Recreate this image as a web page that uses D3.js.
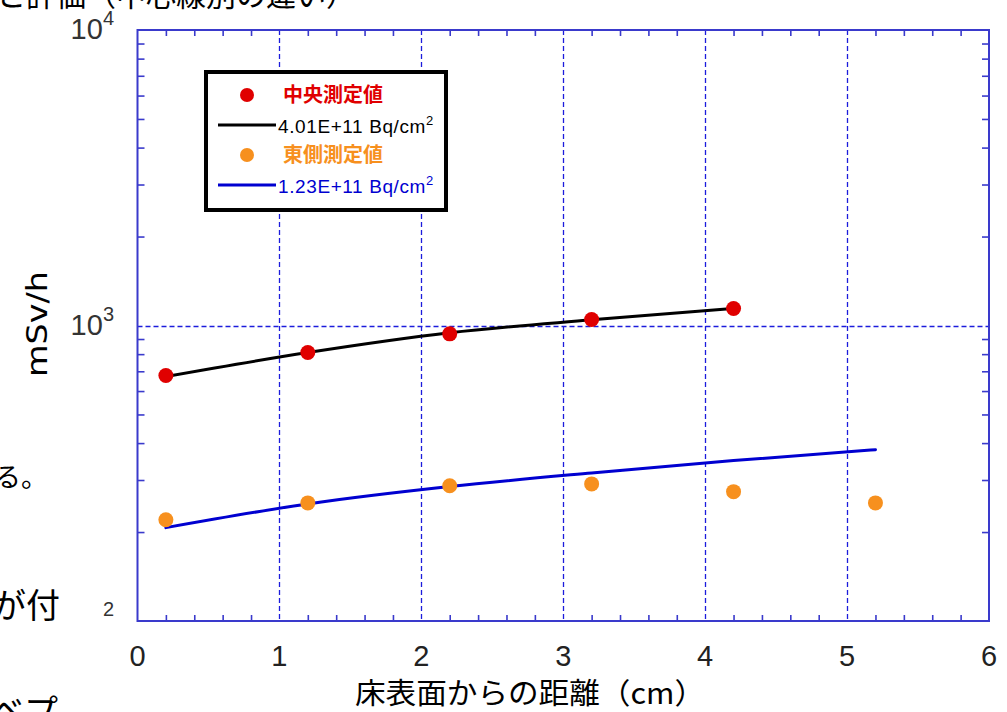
<!DOCTYPE html>
<html>
<head>
<meta charset="utf-8">
<script src="https://cdn.jsdelivr.net/npm/d3@7"></script>
<style>
  body { margin: 0; background: #fff; }
  svg { display: block; }
</style>
</head>
<body>
<div id="chart"></div>
<script>
// measured values (mSv/h) vs distance from floor (cm)
const centerX = [0.2, 1.2, 2.2, 3.2, 4.2]
const centerMeasured = [677, 810, 937, 1048, 1142]
const centerCalc = [672, 810, 945, 1045, 1142]

const eastX = [0.2, 1.2, 2.2, 3.2, 4.2, 5.2]
const eastMeasured = [220, 251, 287, 291, 274, 251]
const eastCalc = [207, 249, 285, 317, 349, 380]

const xTicks = [0, 1, 2, 3, 4, 5, 6]
const yTickLabels = [
  {v: 10000, base: "10", exp: "4"},
  {v: 1000, base: "10", exp: "3"},
  {v: 100, base: "", exp: "2"}
]
const legendItems = [
  {type: "dot", color: "#e00000", label: "中央測定値"},
  {type: "line", color: "#000000", label: "4.01E+11 Bq/cm", sup: "2"},
  {type: "dot", color: "#f7901e", label: "東側測定値"},
  {type: "line", color: "#0000d0", label: "1.23E+11 Bq/cm", sup: "2"}
]

var width = 1007, height = 712
var plot = {left: 137.5, right: 989, top: 30, bottom: 621}
var axisColor = "#3a3acc"

var svg = d3.select("#chart").append("svg")
  .attr("width", width)
  .attr("height", height)

var x = d3.scaleLinear().domain([0, 6]).range([plot.left, plot.right])
var y = d3.scaleLog().domain([100, 10000]).range([plot.bottom, plot.top])

// slide text bits around the picture
var slideFont = "'Noto Sans CJK JP', sans-serif"
svg.append("text").attr("x", -4).attr("y", 6)
  .style("font-family", slideFont).style("font-size", "30px")
  .text("と評価（中心線別の違い）")
svg.append("text").attr("x", -6).attr("y", 487)
  .style("font-family", slideFont).style("font-size", "27px")
  .text("る。")
svg.append("text").attr("x", -8).attr("y", 618)
  .style("font-family", slideFont).style("font-size", "34px")
  .text("が付")
svg.append("text").attr("x", -10).attr("y", 724)
  .style("font-family", slideFont).style("font-size", "34px")
  .text("ベプ")

// grid
var grid = svg.append("g")
  .attr("stroke", "#1c1cdc")
  .attr("stroke-width", 1.3)
  .attr("stroke-dasharray", "5,3")
grid.selectAll(".gx").data(xTicks.slice(1, -1)).join("line")
  .attr("x1", d => Math.round(x(d)) + 0.5).attr("x2", d => Math.round(x(d)) + 0.5)
  .attr("y1", plot.top).attr("y2", plot.bottom)
grid.append("line")
  .attr("x1", plot.left).attr("x2", plot.right)
  .attr("y1", Math.round(y(1000)) + 0.5).attr("y2", Math.round(y(1000)) + 0.5)

// ticks on all four sides, pointing inward
var minorX = d3.range(0, 30).map(i => i * 0.2).filter(d => Math.abs(d - Math.round(d)) > 0.01)
svg.append("g").attr("transform", "translate(0," + plot.bottom + ")")
  .call(d3.axisBottom(x).tickValues(minorX).tickSize(-6).tickFormat(""))
svg.append("g").attr("transform", "translate(0," + plot.top + ")")
  .call(d3.axisTop(x).tickValues(minorX).tickSize(-6).tickFormat(""))

var minorY = []
;[100, 1000].forEach(b => { for (let k = 2; k <= 9; k++) minorY.push(b * k) })
svg.append("g").attr("transform", "translate(" + plot.left + ",0)")
  .call(d3.axisLeft(y).tickValues(minorY).tickSize(-7).tickFormat(""))
svg.append("g").attr("transform", "translate(" + plot.right + ",0)")
  .call(d3.axisRight(y).tickValues(minorY).tickSize(-7).tickFormat(""))

svg.selectAll(".domain").remove()
svg.selectAll(".tick line").attr("stroke", axisColor).attr("stroke-width", 1.6)

// frame
svg.append("rect")
  .attr("x", plot.left).attr("y", plot.top)
  .attr("width", plot.right - plot.left).attr("height", plot.bottom - plot.top)
  .attr("fill", "none").attr("stroke", axisColor).attr("stroke-width", 2)

// x tick labels
var numFont = "'Liberation Sans Narrow', 'Liberation Sans', Arial, sans-serif"
svg.selectAll(".xl").data(xTicks).join("text")
  .attr("x", d => x(d)).attr("y", 666)
  .attr("text-anchor", "middle")
  .style("font-family", numFont).style("font-size", "29px")
  .attr("fill", "#222")
  .text(d => d)

// y tick labels (10^n)
var yl = svg.selectAll(".yl").data(yTickLabels).join("text")
  .attr("x", 114).attr("y", d => y(d.v) + 9)
  .attr("text-anchor", "end")
  .style("font-family", "'Liberation Sans', Arial, sans-serif")
  .style("font-size", "29px")
  .attr("fill", "#333")
yl.append("tspan").text(d => d.base)
yl.append("tspan").attr("dy", -14).style("font-size", "20px").text(d => d.exp)

// axis titles
svg.append("text")
  .attr("x", 530).attr("y", 704)
  .attr("text-anchor", "middle")
  .attr("textLength", 350).attr("lengthAdjust", "spacingAndGlyphs")
  .style("font-family", slideFont).style("font-size", "29px")
  .text("床表面からの距離（cm）")
svg.append("text")
  .attr("transform", "translate(47,324) rotate(-90)")
  .attr("text-anchor", "middle")
  .attr("textLength", 106).attr("lengthAdjust", "spacingAndGlyphs")
  .style("font-family", "'DejaVu Sans', sans-serif").style("font-size", "29px")
  .text("mSv/h")

// lines
var valueline = d3.line()
  .x(d => x(d[0]))
  .y(d => y(d[1]))
  .curve(d3.curveMonotoneX)

svg.append("path")
  .datum(d3.zip(centerX, centerCalc))
  .attr("fill", "none").attr("stroke", "#000").attr("stroke-width", 3)
  .attr("stroke-linecap", "round")
  .attr("d", valueline)
svg.append("path")
  .datum(d3.zip(eastX, eastCalc))
  .attr("fill", "none").attr("stroke", "#0000d0").attr("stroke-width", 3)
  .attr("stroke-linecap", "round")
  .attr("d", valueline)

// points
svg.selectAll(".cdot").data(d3.zip(centerX, centerMeasured)).join("circle")
  .attr("cx", d => x(d[0])).attr("cy", d => y(d[1])).attr("r", 7.5)
  .attr("fill", "#e00000")
svg.selectAll(".edot").data(d3.zip(eastX, eastMeasured)).join("circle")
  .attr("cx", d => x(d[0])).attr("cy", d => y(d[1])).attr("r", 7.5)
  .attr("fill", "#f7901e")

// legend
var legend = svg.append("g").attr("transform", "translate(206,72)")
legend.append("rect")
  .attr("width", 240).attr("height", 138)
  .attr("fill", "#fff").attr("stroke", "#000").attr("stroke-width", 4)
var rows = legend.selectAll(".row").data(legendItems).join("g")
  .attr("transform", (d, i) => "translate(0," + (23 + i * 30) + ")")
rows.filter(d => d.type == "dot").append("circle")
  .attr("cx", 41).attr("cy", 0).attr("r", 7).attr("fill", d => d.color)
rows.filter(d => d.type == "line").append("line")
  .attr("x1", 12).attr("x2", 70).attr("y1", 0).attr("y2", 0)
  .attr("stroke", d => d.color).attr("stroke-width", 3)
rows.filter(d => d.type == "dot").append("text")
  .attr("x", 77).attr("y", 7)
  .style("font-family", slideFont).style("font-size", "20px").style("font-weight", "bold")
  .attr("fill", d => d.color)
  .text(d => d.label)
var lt = rows.filter(d => d.type == "line").append("text")
  .attr("x", 72).attr("y", 8)
  .style("font-family", "'Liberation Sans', Arial, sans-serif").style("font-size", "19px")
  .style("letter-spacing", "0.6px")
  .attr("fill", d => d.color)
lt.append("tspan").text(d => d.label)
lt.append("tspan").attr("dy", -8).style("font-size", "13px").text(d => d.sup)
</script>
</body>
</html>
